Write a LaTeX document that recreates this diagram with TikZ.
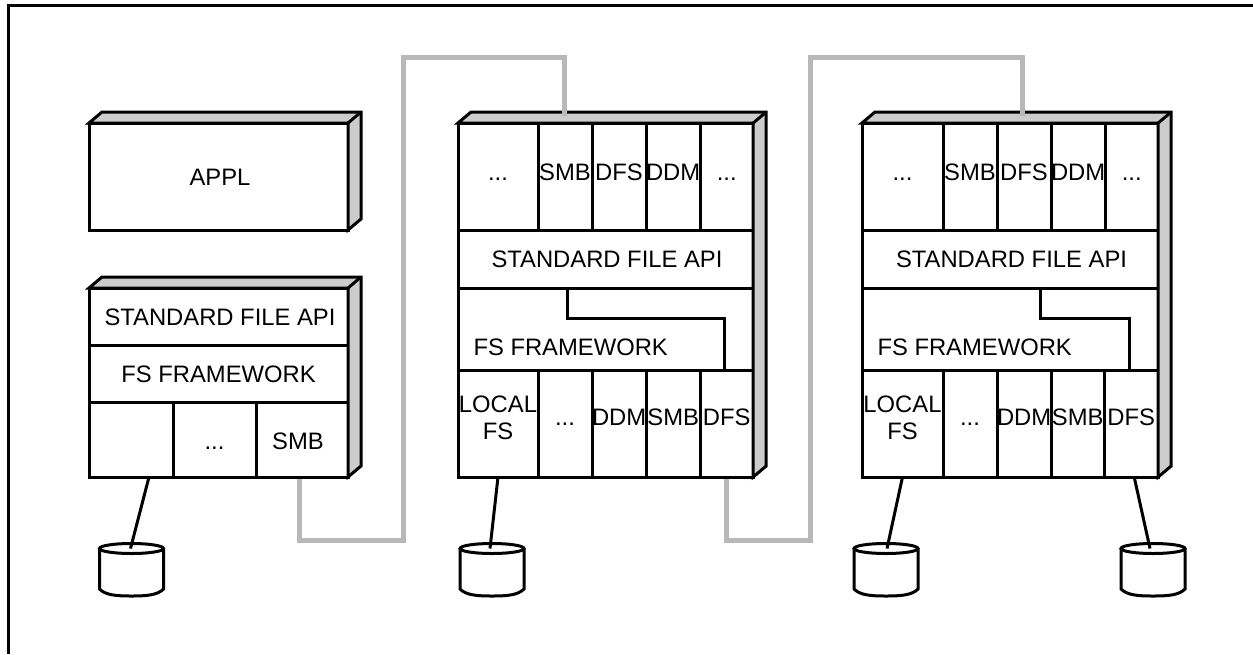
\documentclass[tikz,border=0pt]{standalone}
\usepackage{fontspec}
\setmainfont{Liberation Sans}
\usetikzlibrary{positioning,fit,calc}

\newcommand{\slab}[1]{
    \draw[slabside] (#1.north west) -- ++(13,-11) -- ($(#1.north east)+(13,-11)$)
        -- ($(#1.south east)+(13,-11)$) -- (#1.south east) -- (#1.north east) -- cycle;
    \draw[slabside] (#1.north east) -- ++(13,-11);
}
\newcommand{\drum}[1]{
    \draw ($(#1.north)+(0,5.5)$) ellipse [x radius=32, y radius=5];
    \draw ($(#1.north west)+(0,5.5)$) -- ($(#1.south west)+(0,-7)$)
        .. controls ($(#1.south west)+(6,-1)$) and ($(#1.south)+(-16,0)$) .. (#1.south)
        .. controls ($(#1.south)+(16,0)$) and ($(#1.south east)+(-6,-1)$) .. ($(#1.south east)+(0,-7)$)
        -- ($(#1.north east)+(0,5.5)$);
}

\begin{document}
\begin{tikzpicture}[
        x=1pt, y=-1pt,
        node distance=0pt,
        line width=3pt,
        cell/.style={
            draw=black,
            rectangle,
            inner sep=0pt,
            outer sep=0pt,
            align=center,
            text height=17pt,
            text depth=0pt,
            font=\fontsize{23.8}{27}\selectfont
        },
        upper/.style={cell, minimum height=107pt, text depth=10pt},
        lower/.style={cell, minimum height=107pt, text depth=12.6pt},
        tag/.style={inner sep=0pt, font=\fontsize{23.8}{27}\selectfont},
        outline/.style={inner sep=0pt, outer sep=0pt},
        slabside/.style={draw=black, fill=black!20, line join=miter},
        disk/.style={
            inner sep=0pt,
            outer sep=0pt,
            minimum width=64pt,
            minimum height=53pt
        },
        link/.style={draw=black},
        divider/.style={draw=black},
        trunk/.style={draw=black!28, line width=5pt}
    ]
        \useasboundingbox (0,0) rectangle (1253,654);
        \coordinate (frameL) at (8.5,654);
        \coordinate (frameC) at (8.5,5.5);
        \coordinate (frameR) at (1253,5.5);
        \draw (frameL) -- (frameC) -- (frameR);

        % application box
        \node[cell, anchor=north west, minimum width=259pt, minimum height=107pt] (appl) at (89,123) {\hspace*{3pt}APPL};
        \slab{appl}

        % left stack
        \node[cell, anchor=north west, minimum width=259pt, minimum height=57pt] (apiA) at (89,288) {\hspace*{3pt}STANDARD FILE API};
        \node[cell, below=of apiA, minimum width=259pt, minimum height=57pt] (fwA) {FS FRAMEWORK};
        \node[cell, anchor=north west, minimum width=84pt, minimum height=75pt] (fsA) at (fwA.south west) {};
        \node[cell, right=of fsA, minimum width=83pt, minimum height=75pt, text height=19pt] (moreA) {...};
        \node[cell, right=of moreA, minimum width=92pt, minimum height=75pt, text height=19pt] (smbA) {SMB\hspace*{8pt}};
        \node[outline, fit=(apiA)(smbA)] (stackA) {};
        \slab{stackA}

        % middle stack
        \node[upper, anchor=north west, minimum width=80pt] (topB) at (458,123) {...};
        \node[upper, right=of topB, minimum width=54pt] (smbB) {SMB};
        \node[upper, right=of smbB, minimum width=54pt] (dfsB) {DFS};
        \node[upper, right=of dfsB, minimum width=54pt] (ddmB) {DDM};
        \node[upper, right=of ddmB, minimum width=53pt] (endB) {...};
        \node[cell, anchor=north west, minimum width=295pt, minimum height=58pt] (apiB) at (topB.south west) {\hspace*{3pt}STANDARD FILE API};
        \node[cell, below=of apiB, minimum width=295pt, minimum height=82pt] (fwB) {};
        \node[tag, anchor=west] (fwtextB) at ($(fwB.west)+(14,18)$) {FS FRAMEWORK};
        \node[lower, anchor=north west, minimum width=80pt, text height=34pt, text depth=2.6pt] (fsB) at (fwB.south west) {LOCAL\\FS};
        \node[lower, right=of fsB, minimum width=54pt] (moreB) {...};
        \node[lower, right=of moreB, minimum width=54pt] (ddmlowB) {DDM};
        \node[lower, right=of ddmlowB, minimum width=54pt] (smblowB) {SMB};
        \node[lower, right=of smblowB, minimum width=53pt] (dfslowB) {DFS};
        \node[outline, fit=(topB)(dfslowB)] (stackB) {};
        \slab{stackB}
        \draw[divider] ($(fwB.north west)+(109,0)$) |- ($(fwB.north west)+(266,30)$) -- ($(fwB.south west)+(266,0)$);

        % right stack
        \node[upper, anchor=north west, minimum width=81pt] (topC) at (862,123) {...};
        \node[upper, right=of topC, minimum width=54pt] (smbC) {SMB};
        \node[upper, right=of smbC, minimum width=54pt] (dfsC) {DFS};
        \node[upper, right=of dfsC, minimum width=54pt] (ddmC) {DDM};
        \node[upper, right=of ddmC, minimum width=53pt] (endC) {...};
        \node[cell, anchor=north west, minimum width=296pt, minimum height=58pt] (apiC) at (topC.south west) {\hspace*{3pt}STANDARD FILE API};
        \node[cell, below=of apiC, minimum width=296pt, minimum height=82pt] (fwC) {};
        \node[tag, anchor=west] (fwtextC) at ($(fwC.west)+(14,18)$) {FS FRAMEWORK};
        \node[lower, anchor=north west, minimum width=81pt, text height=34pt, text depth=2.6pt] (fsC) at (fwC.south west) {LOCAL\\FS};
        \node[lower, right=of fsC, minimum width=54pt] (moreC) {...};
        \node[lower, right=of moreC, minimum width=54pt] (ddmlowC) {DDM};
        \node[lower, right=of ddmlowC, minimum width=53pt] (smblowC) {SMB};
        \node[lower, right=of smblowC, minimum width=54pt] (dfslowC) {DFS};
        \node[outline, fit=(topC)(dfslowC)] (stackC) {};
        \slab{stackC}
        \draw[divider] ($(fwC.north west)+(178,0)$) |- ($(fwC.north west)+(267,30)$) -- ($(fwC.south west)+(267,0)$);

        % disks
        \node[disk] (diskA) at (131.5,569.5) {};
        \node[disk] (diskB) at (492,569.5) {};
        \node[disk] (diskC) at (886,569.5) {};
        \node[disk] (diskD) at (1153,569.5) {};
        \drum{diskA}
        \drum{diskB}
        \drum{diskC}
        \drum{diskD}

        \draw[link] ($(fsA.south)+(18,0)$) -- ($(diskA.north)+(-1,5.5)$);
        \draw[link] (fsB.south) -- ($(diskB.north)+(-2,5.5)$);
        \draw[link] (fsC.south) -- ($(diskC.north)+(1,5.5)$);
        \draw[link] ($(dfslowC.south)+(3,0)$) -- ($(diskD.north)+(-3,5.5)$);

        % network
        \coordinate (lowA) at (403,540);
        \coordinate (highA) at (403,57);
        \coordinate (lowB) at (810,540);
        \coordinate (highB) at (810,57);
        \draw[trunk] ($(smbA.south)+(-3,2)$) |- (lowA) -- (highA) -| ($(smbB.north)+(-1,-7)$);
        \draw[trunk] ($(dfslowB.south)+(0,2)$) |- (lowB) -- (highB) -| ($(dfsC.north)+(-2,-7)$);
    \end{tikzpicture}
\end{document}
